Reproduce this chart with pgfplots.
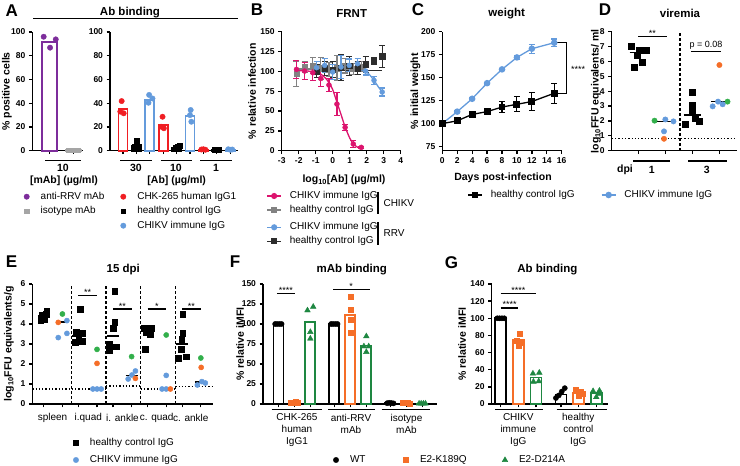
\documentclass[border=0pt]{standalone}
\usepackage{pgfplots}
\pgfplotsset{compat=1.18}
\usepackage{fontspec}
\setmainfont{Liberation Sans}

\definecolor{purpleC}{RGB}{125,45,155}
\definecolor{greyC}{RGB}{165,165,165}
\definecolor{redC}{RGB}{240,30,35}
\definecolor{blueC}{RGB}{100,155,220}
\definecolor{pinkC}{RGB}{220,20,110}
\definecolor{greyB}{RGB}{130,130,130}
\definecolor{blackB}{RGB}{45,45,45}
\definecolor{orangeC}{RGB}{245,110,40}
\definecolor{greenD}{RGB}{50,175,75}
\definecolor{greenF}{RGB}{30,135,65}

\newcommand{\fTitle}{\bfseries\fontsize{11.5}{13}\selectfont}
\newcommand{\fAxis}{\bfseries\fontsize{10.5}{12}\selectfont}
\newcommand{\fLeg}{\fontsize{10}{11.7}\selectfont}
\newcommand{\fPanel}{\bfseries\fontsize{17}{19}\selectfont}
\newcommand{\fStar}{\fontsize{9}{10}\selectfont}

\pgfplotsset{
  prism/.style={scale only axis, anchor=south west, enlargelimits=false, clip=false,
    axis x line*=bottom, axis y line*=left,
    axis line style={line width=1.3pt},
    tick align=outside, major tick length=3.5pt,
    tick style={black, line width=1.3pt},
    tick label style={font=\bfseries\fontsize{8.5}{10}\selectfont},
    /pgf/number format/assume math mode=true},
  nolab/.style={xticklabels={}},
  pbar/.style={ybar, bar shift=0pt, bar width=#1, fill=white, line width=1.7pt},
  dots/.style={only marks, mark=*, mark size=2.7pt},
  squares/.style={only marks, mark=square*, mark size=2.7pt},
  tris/.style={only marks, mark=triangle*, mark size=3.3pt},
  ebar/.style={error bars/.cd, y dir=both, y explicit, error bar style={line width=1.1pt},
    error mark options={rotate=90, mark size=3pt, line width=1.1pt}},
  legmark/.style={legend image code/.code={\draw[##1, only marks] plot coordinates {(0pt,0pt)}; \path[draw=none, fill=none] (-6pt,-3pt) rectangle (6pt,3pt);}},
  legline/.style={legend image code/.code={\draw[##1, mark repeat=2, mark phase=2] plot coordinates {(-7pt,0pt) (0pt,0pt) (7pt,0pt)}; \path[draw=none, fill=none] (-7pt,-3pt) rectangle (7pt,3pt);}},
  legax/.style={hide axis, scale only axis, at={(0pt,0pt)}, anchor=south west,
    width=740pt, height=466pt, xmin=0, xmax=1, ymin=0, ymax=1, legend cell align=left,
    legend style={draw=none, fill=none, inner sep=0pt, outer sep=0pt, column sep=0pt,
      font=\fLeg, anchor=north west,
      nodes={inner xsep=8pt, inner ysep=0pt, text height=7.5pt, text depth=2.5pt}}},
}

\begin{document}
\begin{tikzpicture}
\useasboundingbox (0,0) rectangle (740pt,466pt);

% ---------- panel letters, titles, labels ----------
\node[font=\fPanel] at (11.7pt,455pt) {A};
\node[font=\fPanel] at (257pt,456pt) {B};
\node[font=\fPanel] at (418pt,456pt) {C};
\node[font=\fPanel] at (605pt,456pt) {D};
\node[font=\fPanel] at (11.5pt,204pt) {E};
\node[font=\fPanel] at (235pt,204pt) {F};
\node[font=\fPanel] at (451.5pt,203pt) {G};

\node[font=\fTitle] at (130pt,453pt) {Ab binding};
\draw[line width=1pt] (33pt,447pt) -- (238pt,447pt);
\node[font=\fTitle] at (351.7pt,452.7pt) {FRNT};
\node[font=\fTitle] at (506.7pt,452.7pt) {weight};
\node[font=\fTitle] at (680pt,452.7pt) {viremia};
\node[font=\fTitle] at (123.3pt,196pt) {15 dpi};
\node[font=\fTitle] at (351.7pt,196pt) {mAb binding};
\node[font=\fTitle] at (547.3pt,196pt) {Ab binding};

\node[font=\fAxis, rotate=90] at (7pt,374.7pt) {\% positive cells};
\node[font=\fAxis, rotate=90] at (252pt,374.7pt) {\% relative infection};
\node[font=\fAxis, rotate=90] at (415.5pt,374.7pt) {\% initial weight};
\node[font=\fAxis, rotate=90] at (596pt,374.7pt) {log\textsubscript{10}FFU equivalents/ ml};
\node[font=\fAxis, rotate=90] at (9pt,122pt) {log\textsubscript{10}FFU equivalents/g};
\node[font=\fAxis, rotate=90] at (240pt,122pt) {\% relative iMFI};
\node[font=\fAxis, rotate=90] at (462pt,122pt) {\% relative iMFI};

% A x labels
\draw[line width=1.3pt] (45pt,305.3pt) -- (81pt,305.3pt);
\node[font=\fAxis] at (63pt,298pt) {10};
\node[font=\fAxis] at (64pt,285pt) {[mAb] (µg/ml)};
\draw[line width=1.3pt] (120pt,305.3pt) -- (152pt,305.3pt);
\draw[line width=1.3pt] (160.7pt,305.3pt) -- (191.7pt,305.3pt);
\draw[line width=1.3pt] (200pt,305.3pt) -- (231.7pt,305.3pt);
\node[font=\fAxis] at (136pt,298pt) {30};
\node[font=\fAxis] at (176pt,298pt) {10};
\node[font=\fAxis] at (216pt,298pt) {1};
\node[font=\fAxis] at (176.7pt,285pt) {[Ab] (µg/ml)};
% B, C x labels
\node[font=\fAxis] at (344pt,286pt) {log\textsubscript{10}[Ab] (µg/ml)};
\node[font=\fAxis] at (503pt,288pt) {Days post-infection};
% D x labels
\draw[line width=1.3pt] (633pt,305pt) -- (670pt,305pt);
\draw[line width=1.3pt] (688pt,305pt) -- (726.7pt,305pt);
\node[font=\fAxis] at (625pt,296pt) {dpi};
\node[font=\fAxis] at (651.7pt,296pt) {1};
\node[font=\fAxis] at (706.7pt,296pt) {3};
% E x labels
\node[font=\fLeg] at (52.5pt,47.7pt) {spleen};
\node[font=\fLeg] at (88.3pt,47.7pt) {i.quad};
\node[font=\fLeg] at (122.5pt,47.7pt) {i. ankle};
\node[font=\fLeg] at (156.7pt,47.7pt) {c. quad};
\node[font=\fLeg] at (190.8pt,47.7pt) {c. ankle};
% F x labels
\draw[line width=1.3pt] (271.7pt,56.7pt) -- (321.7pt,56.7pt);
\draw[line width=1.3pt] (328pt,56.7pt) -- (375pt,56.7pt);
\draw[line width=1.3pt] (381.7pt,56.7pt) -- (430pt,56.7pt);
\node[font=\fLeg, align=center] at (297pt,36pt) {CHK-265\\human\\IgG1};
\node[font=\fLeg, align=center] at (351pt,42pt) {anti-RRV\\mAb};
\node[font=\fLeg, align=center] at (406.5pt,42pt) {isotype\\mAb};
% G x labels
\draw[line width=1.3pt] (495pt,56.7pt) -- (542.7pt,56.7pt);
\draw[line width=1.3pt] (556.7pt,56.7pt) -- (606.7pt,56.7pt);
\node[font=\fLeg, align=center] at (518.3pt,36pt) {CHIKV\\immune\\IgG};
\node[font=\fLeg, align=center] at (578.3pt,36pt) {healthy\\control\\IgG};
% B legend brackets
\draw[line width=1.1pt] (378pt,274.3pt) -- (378pt,252pt);
\node[font=\fLeg, anchor=west] at (380pt,262.5pt) {CHIKV};
\draw[line width=1.1pt] (378pt,244pt) -- (378pt,221pt);
\node[font=\fLeg, anchor=west] at (380pt,232.7pt) {RRV};

% ---------- A left ----------
\begin{axis}[prism, nolab, at={(32.3pt,315.3pt)}, width=50.7pt, height=118.7pt,
  xmin=-0.74, xmax=1.4, ymin=0, ymax=100, ytick={0,20,40,60,80,100},
  xtick={0,1}]
\addplot[pbar=15pt, draw=purpleC] coordinates {(0,91.3)};
\addplot[pbar=15pt, draw=greyC] coordinates {(1,0.4)};
\addplot[dots, purpleC] coordinates {(-0.26,96) (0.01,86.8) (0.25,93.8)};
\addplot[squares, greyC, mark size=2.3pt] coordinates {(0.78,0.4) (0.98,0.4) (1.2,0.4)};
\end{axis}

% ---------- A right ----------
\begin{axis}[prism, nolab, at={(110pt,315.3pt)}, width=128pt, height=118.7pt,
  xmin=-0.97, xmax=8.58, ymin=0, ymax=100, ytick={0,20,40,60,80,100},
  xtick={0,1,2,3,4,5,6,7,8}]
\addplot[pbar=9pt, draw=redC] coordinates {(0,35) (3,21.4) (6,1)};
\addplot[pbar=9pt, draw=black] coordinates {(1,4.5) (4,2.5) (7,0.8)};
\addplot[pbar=9pt, draw=blueC] coordinates {(2,42.7) (5,29.5) (8,1)};
\addplot[dots, redC] coordinates {(-0.1,41.8) (-0.2,32.9) (0.05,31.5) (2.95,28.6) (2.85,20.2) (3.05,18.9) (5.85,1) (6,1.2) (6.15,0.8)};
\addplot[squares, black, mark size=2.5pt] coordinates {(1.05,8.4) (0.9,3.4) (1.15,3) (4.1,3.2) (4.2,4) (3.9,2.5) (6.85,0.8) (7,1) (7.15,0.6)};
\addplot[dots, blueC] coordinates {(1.95,47) (2.2,44) (1.9,40.4) (5.05,34.3) (5,30) (5.1,24.4) (7.85,1.2) (8.0,0.8) (8.15,1.0)};
\end{axis}

% ---------- B ----------
\begin{axis}[prism, at={(281.7pt,315.3pt)}, width=119pt, height=119pt,
  xmin=-3, xmax=4, ymin=0, ymax=150, xtick={-3,-2,-1,0,1,2,3,4}, ytick={0,25,50,75,100,125,150}]
\addplot[greyB, line width=1.3pt] coordinates {(-2.13,103) (1.68,103)};
\addplot[blackB, line width=1.3pt] coordinates {(-0.95,101) (2.91,101)};
\addplot[only marks, mark=square*, mark size=2.6pt, greyB, ebar] table[x=x,y=y,y error=e] {
x y e
-2.13 96.6 16
-1.65 106 7
-1.17 107 10
-0.70 104 14
-0.22 102 9
0.25 104 16
0.73 107 9
1.21 103 7
1.68 106 6
};
\addplot[only marks, mark=square*, mark size=2.6pt, blackB, ebar] table[x=x,y=y,y error=e] {
x y e
-0.95 100 8
-0.47 104 9
0.00 102 10
0.49 105 16
0.97 107 12
1.46 104 8
1.94 109 10
2.43 113 4
2.91 119 14
};
\addplot[blueC, line width=1.3pt, smooth, tension=0.5] coordinates {(-0.95,104.5) (0,104.5) (1,104) (1.5,103) (1.94,100) (2.2,95) (2.43,88.5) (2.7,80) (2.91,74)};
\addplot[only marks, mark=*, mark size=2.5pt, blueC, ebar] table[x=x,y=y,y error=e] {
x y e
-0.95 104.6 8
-0.47 107.6 9
0.00 99.2 10
0.49 105.5 15
0.97 107.6 8
1.46 109.7 6
1.94 100.4 5
2.43 88.7 5
2.91 74 5
};
\addplot[pinkC, line width=1.3pt, smooth, tension=0.5] coordinates {(-2.13,101) (-1.5,100.5) (-1,99) (-0.7,96.5) (-0.4,91) (-0.2,85) (0,77) (0.25,61) (0.5,45) (0.73,30) (1.0,16) (1.2,9) (1.45,4.5) (1.68,2.5)};
\addplot[only marks, mark=*, mark size=2.5pt, pinkC, ebar] table[x=x,y=y,y error=e] {
x y e
-2.13 102.5 11
-1.65 100.4 11
-1.17 98.3 10
-0.70 91 10
-0.22 82.8 8
0.25 58.8 14
0.73 29.4 4
1.21 8.4 4
1.68 4.2 1
};
\end{axis}

% ---------- C ----------
\begin{axis}[prism, at={(442.3pt,315.3pt)}, width=119.4pt, height=119pt,
  xmin=0, xmax=16, ymin=70.5, ymax=200, xtick={0,2,4,6,8,10,12,14,16}, ytick={75,100,125,150,175,200}]
\addplot[blueC, line width=1.3pt, mark=*, mark size=2.6pt, ebar] table[x=x,y=y,y error=e] {
x y e
0 100 0
2 113 1
4 127 1
6 144 1
8 159 1
10 172 2
12 181.5 5
15 188 4
};
\addplot[black, line width=1.3pt, mark=square*, mark size=2.8pt, ebar] table[x=x,y=y,y error=e] {
x y e
0 100 0
2 103 1
4 110 1.5
6 113 3
8 118 6
10 121 8
12 124 10
15 133 11
};
\draw[line width=1.1pt] (axis cs:15.4,188) -- (axis cs:16.7,188) -- (axis cs:16.7,133) -- (axis cs:15.4,133);
\node[font=\fStar, anchor=west] at (axis cs:16.8,159) {****};
\end{axis}

% ---------- D ----------
\begin{axis}[prism, nolab, at={(611.7pt,315.3pt)}, width=125pt, height=119pt,
  xmin=-0.985, xmax=3.64, ymin=0, ymax=8, ytick={0,1,2,3,4,5,6,7,8},
  xtick={0,1,2,3}]
\addplot[black, line width=1.1pt, dash pattern=on 1.3pt off 2pt] coordinates {(-0.985,0.8) (3.64,0.8)};
\addplot[black, line width=1.2pt, dash pattern=on 3pt off 2pt] coordinates {(1.54,0) (1.54,8)};
\addplot[squares, black, mark size=3pt] coordinates {(-0.25,7.05) (0.05,6.75) (0.3,6.78) (-0.05,6.45) (-0.15,5.6) (0.15,5.95) (2,3.92) (2,3.07) (2,2.67) (1.75,1.75) (2.1,2.2) (2.25,1.95)};
\addplot[black, line width=1.2pt] coordinates {(-0.32,6.6) (0.32,6.6)};
\addplot[black, line width=1.2pt] coordinates {(0.7,1.97) (1.3,1.97)};
\addplot[black, line width=1.2pt] coordinates {(1.68,2.4) (2.32,2.4)};
\addplot[black, line width=1.2pt] coordinates {(2.68,3.3) (3.32,3.3)};
\addplot[dots, greenD] coordinates {(0.6,2.02) (3.3,3.3)};
\addplot[dots, orangeC] coordinates {(0.95,0.8) (3.0,5.76)};
\addplot[dots, blueC] coordinates {(1.0,2.1) (1.3,1.97) (0.95,1.3) (2.75,2.98) (2.95,3.3) (3.12,3.12)};
\draw[line width=1.1pt] (axis cs:0,7.67) -- (axis cs:1.05,7.67);
\node[font=\fStar, anchor=south, inner sep=1pt] at (axis cs:0.52,7.6) {**};
\draw[line width=1.1pt] (axis cs:1.94,6.66) -- (axis cs:3.06,6.66);
\node[font=\fStar, anchor=south, inner sep=2pt] at (axis cs:2.5,6.66) {p = 0.08};
\end{axis}

% ---------- E ----------
\begin{axis}[prism, nolab, at={(32.3pt,62pt)}, width=181pt, height=120pt,
  xmin=-0.6, xmax=4.63, ymin=0, ymax=6, ytick={0,1,2,3,4,5,6},
  xtick={-0.27,0.27,0.73,1.27,1.73,2.27,2.73,3.27,3.73,4.27}]
\addplot[black, line width=1.1pt, dash pattern=on 1.3pt off 2pt] coordinates {(-0.6,0.75) (1.53,0.75)};
\addplot[black, line width=1.1pt, dash pattern=on 1.3pt off 2pt] coordinates {(1.53,0.9) (2.53,0.9)};
\addplot[black, line width=1.1pt, dash pattern=on 1.3pt off 2pt] coordinates {(2.53,0.75) (3.53,0.75)};
\addplot[black, line width=1.1pt, dash pattern=on 1.3pt off 2pt] coordinates {(3.53,0.88) (4.63,0.88)};
\addplot[black, line width=1.2pt, dash pattern=on 3pt off 2pt] coordinates {(0.53,0) (0.53,6)};
\addplot[black, line width=1.2pt, dash pattern=on 3pt off 2pt] coordinates {(1.53,0) (1.53,6)};
\addplot[black, line width=1.2pt, dash pattern=on 3pt off 2pt] coordinates {(2.53,0) (2.53,6)};
\addplot[black, line width=1.2pt, dash pattern=on 3pt off 2pt] coordinates {(3.53,0) (3.53,6)};
\addplot[squares, black, mark size=2.8pt] coordinates {
(-0.36,4.18) (-0.2,4.5) (-0.32,4.45) (-0.18,4.65) (-0.36,4.32) (-0.25,4.25)
(0.78,4.75) (0.66,3.62) (0.84,3.55) (0.74,3.3) (0.64,3.1) (0.84,3.14)
(1.78,5.65) (1.78,4.1) (1.73,3.8) (1.63,3.0) (1.83,2.87) (1.63,2.7)
(2.62,3.78) (2.73,3.8) (2.84,3.8) (2.68,3.6) (2.8,3.5) (2.66,2.75)
(3.74,4.5) (3.74,3.55) (3.72,3.25) (3.7,2.75) (3.84,2.37) (3.62,2.28)};
\addplot[black, line width=1.2pt] coordinates {(-0.44,4.4) (-0.1,4.4)};
\addplot[black, line width=1.2pt] coordinates {(0.1,4.1) (0.44,4.1)};
\addplot[black, line width=1.2pt] coordinates {(0.56,3.4) (0.9,3.4)};
\addplot[black, line width=1.2pt] coordinates {(1.1,0.75) (1.44,0.75)};
\addplot[black, line width=1.2pt] coordinates {(1.56,3.4) (1.9,3.4)};
\addplot[black, line width=1.2pt] coordinates {(2.1,1.43) (2.44,1.43)};
\addplot[black, line width=1.2pt] coordinates {(2.56,3.65) (2.9,3.65)};
\addplot[black, line width=1.2pt] coordinates {(3.1,0.75) (3.44,0.75)};
\addplot[black, line width=1.2pt] coordinates {(3.56,3.0) (3.9,3.0)};
\addplot[black, line width=1.2pt] coordinates {(4.1,1.1) (4.44,1.1)};
\addplot[dots, blueC, mark size=2.6pt] coordinates {(0.4,4.17) (0.4,3.53) (0.15,3.32) (1.15,0.75) (1.27,0.75) (1.39,0.75) (2.38,1.65) (2.28,1.45) (2.17,1.25) (3.27,1.43) (3.15,0.75) (3.27,0.75) (4.3,1.12) (4.4,1.05) (4.17,0.95)};
\addplot[dots, orangeC, mark size=2.6pt] coordinates {(0.15,4.08) (1.27,2.03) (2.38,1.28) (3.39,0.75) (4.28,1.83)};
\addplot[dots, greenD, mark size=2.6pt] coordinates {(0.27,4.5) (1.27,2.73) (2.27,2.37) (3.27,3.45) (4.27,2.3)};
\draw[line width=1.1pt] (axis cs:0.73,5.42) -- (axis cs:1.27,5.42);
\node[font=\fStar, anchor=south, inner sep=1pt] at (axis cs:1.0,5.35) {**};
\draw[line width=1.1pt] (axis cs:1.73,4.75) -- (axis cs:2.27,4.75);
\node[font=\fStar, anchor=south, inner sep=1pt] at (axis cs:2.0,4.68) {**};
\draw[line width=1.1pt] (axis cs:2.73,4.75) -- (axis cs:3.27,4.75);
\node[font=\fStar, anchor=south, inner sep=1pt] at (axis cs:3.0,4.68) {*};
\draw[line width=1.1pt] (axis cs:3.73,4.75) -- (axis cs:4.27,4.75);
\node[font=\fStar, anchor=south, inner sep=1pt] at (axis cs:4.0,4.68) {**};
\end{axis}

% ---------- F ----------
\begin{axis}[prism, nolab, at={(263pt,62pt)}, width=173.7pt, height=120pt,
  xmin=-0.96, xmax=9.9, ymin=0, ymax=150, ytick={0,25,50,75,100,125,150},
  xtick={0,1,2,3.5,4.5,5.5,7,8,9}]
\addplot[pbar=10pt, draw=black] coordinates {(0,100) (3.5,100) (7,1)};
\addplot[pbar=10pt, draw=orangeC] coordinates {(1,2) (4.5,111.5) (8,1.3)};
\addplot[pbar=10pt, draw=greenF] coordinates {(2,102.5) (5.5,73) (9,0.6)};
\addplot[dots, black, mark size=2.6pt] coordinates {(-0.2,100) (-0.07,100) (0.07,100) (0.2,100) (3.3,100) (3.43,100) (3.57,100) (3.7,100) (6.8,1) (6.93,1.5) (7.07,1.2) (7.2,0.8)};
\addplot[squares, orangeC, mark size=2.5pt] coordinates {(0.8,2) (0.93,1.5) (1.07,2.5) (1.2,2) (4.5,134) (4.5,118) (4.5,105.6) (4.5,88.8) (7.8,1) (7.93,2) (8.07,1.5) (8.2,0.8)};
\addplot[tris, greenF] coordinates {(1.82,117) (2.18,121.5) (2,90) (2,81.7) (5.5,84.6) (5.35,72) (5.65,72) (5.5,65) (8.8,0.5) (8.93,0.5) (9.07,0.5) (9.2,0.5)};
\draw[line width=1.1pt] (axis cs:-0.1,138) -- (axis cs:1.04,138);
\node[font=\fStar, anchor=south, inner sep=1pt] at (axis cs:0.47,137) {****};
\draw[line width=1.1pt] (axis cs:3.44,143) -- (axis cs:5.73,143);
\node[font=\fStar, anchor=south, inner sep=1pt] at (axis cs:4.55,142) {*};
\end{axis}

% ---------- G ----------
\begin{axis}[prism, nolab, at={(491.7pt,62pt)}, width=116.6pt, height=120pt,
  xmin=-0.51, xmax=6.08, ymin=0, ymax=140, ytick={0,20,40,60,80,100,120,140},
  xtick={0,1,2,3.4,4.4,5.4}]
\addplot[pbar=11pt, draw=black] coordinates {(0,100) (3.4,11)};
\addplot[pbar=11pt, draw=orangeC] coordinates {(1,74.5) (4.4,13)};
\addplot[pbar=11pt, draw=greenF] coordinates {(2,31) (5.4,13)};
\addplot[dots, black, mark size=2.6pt] coordinates {(-0.2,100) (-0.07,100) (0.07,100) (0.2,100) (3.62,18.5) (3.45,14.5) (3.28,10) (3.12,7)};
\addplot[squares, orangeC, mark size=2.5pt] coordinates {(1.05,82) (0.88,74) (1.12,71.5) (1.0,68.5) (4.25,17) (4.5,14) (4.62,12) (4.38,10)};
\addplot[tris, greenF] coordinates {(1.82,35.5) (2.18,36.5) (1.85,26) (2.15,26.5) (5.22,15) (5.58,15.5) (5.4,8) (5.55,12)};
\draw[line width=1.1pt] (axis cs:0,112) -- (axis cs:1,112);
\node[font=\fStar, anchor=south, inner sep=1pt] at (axis cs:0.5,111) {****};
\draw[line width=1.1pt] (axis cs:0,129) -- (axis cs:2,129);
\node[font=\fStar, anchor=south, inner sep=1pt] at (axis cs:1,128) {****};
\end{axis}

% ---------- legends ----------
\begin{axis}[legax, legend style={at={(0.02797,0.58863)}, row sep=4.5pt}]
\addlegendimage{legmark, mark=*, mark size=2.7pt, purpleC}\addlegendentry{anti-RRV mAb}
\addlegendimage{legmark, mark=square*, mark size=2.4pt, greyC}\addlegendentry{isotype mAb}
\end{axis}
\begin{axis}[legax, legend style={at={(0.15851,0.58863)}, row sep=4.5pt}]
\addlegendimage{legmark, mark=*, mark size=2.7pt, redC}\addlegendentry{CHK-265 human IgG1}
\addlegendimage{legmark, mark=square*, mark size=2.4pt, black}\addlegendentry{healthy control IgG}
\addlegendimage{legmark, mark=*, mark size=2.7pt, blueC}\addlegendentry{CHIKV immune IgG}
\end{axis}
\begin{axis}[legax, legend style={at={(0.36014,0.59013)}, row sep=4pt}]
\addlegendimage{legline, line width=1.3pt, mark=*, mark size=2.4pt, pinkC}\addlegendentry{CHIKV immune IgG}
\addlegendimage{legline, line width=1.3pt, mark=square*, mark size=2.4pt, greyB}\addlegendentry{healthy control IgG}
\end{axis}
\begin{axis}[legax, legend style={at={(0.36014,0.52296)}, row sep=4pt}]
\addlegendimage{legline, line width=1.3pt, mark=*, mark size=2.4pt, blueC}\addlegendentry{CHIKV immune IgG}
\addlegendimage{legline, line width=1.3pt, mark=square*, mark size=2.4pt, blackB}\addlegendentry{healthy control IgG}
\end{axis}
\begin{axis}[legax, legend style={at={(0.63176,0.59227)}}]
\addlegendimage{legline, line width=1.3pt, mark=square*, mark size=2.6pt, black}\addlegendentry{healthy control IgG}
\end{axis}
\begin{axis}[legax, legend style={at={(0.81216,0.59227)}}]
\addlegendimage{legline, line width=1.3pt, mark=*, mark size=2.6pt, blueC}\addlegendentry{CHIKV immune IgG}
\end{axis}
\begin{axis}[legax, legend style={at={(0.09459,0.06073)}, row sep=7.3pt}]
\addlegendimage{legmark, mark=square*, mark size=2.6pt, black}\addlegendentry{healthy control IgG}
\addlegendimage{legmark, mark=*, mark size=2.7pt, blueC}\addlegendentry{CHIKV immune IgG}
\end{axis}
\begin{axis}[legax, legend style={at={(0.44595,0.02361)}}]
\addlegendimage{legmark, mark=*, mark size=2.7pt, black}\addlegendentry{WT}
\end{axis}
\begin{axis}[legax, legend style={at={(0.54054,0.02361)}}]
\addlegendimage{legmark, mark=square*, mark size=2.5pt, orangeC}\addlegendentry{E2-K189Q}
\end{axis}
\begin{axis}[legax, legend style={at={(0.67432,0.02361)}}]
\addlegendimage{legmark, mark=triangle*, mark size=3.2pt, greenF}\addlegendentry{E2-D214A}
\end{axis}
\end{tikzpicture}
\end{document}
